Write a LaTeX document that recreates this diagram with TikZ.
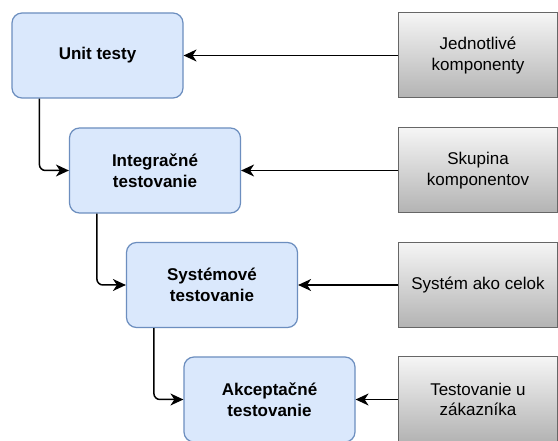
\documentclass[tikz,border=0pt]{standalone}
\usepackage{fontspec}
\setmainfont{Liberation Sans}
\usetikzlibrary{arrows.meta}
\definecolor{bfill}{HTML}{DAE8FC}
\definecolor{bdraw}{HTML}{6C8EBF}
\definecolor{gtop}{HTML}{F5F5F5}
\definecolor{gbot}{HTML}{B3B3B3}
\definecolor{gdraw}{HTML}{666666}
\tikzset{
  levelbox/.style={draw=bdraw, fill=bfill, rounded corners=10pt, line width=1.2pt,
    minimum width=171pt, minimum height=85pt, align=center, inner sep=0pt,
    font=\fontsize{17}{20.5}\selectfont\bfseries},
  srcbox/.style={draw=gdraw, top color=gtop, bottom color=gbot, line width=1pt,
    minimum width=159pt, minimum height=85pt, align=center, inner sep=0pt,
    font=\fontsize{17}{20.5}\selectfont},
  conn/.style={line width=1.5pt, -{Stealth[length=13pt,width=12pt,inset=4pt]}, rounded corners=6pt},
}
\begin{document}
\begin{tikzpicture}[x=1pt,y=-1pt]
\useasboundingbox (0,0) rectangle (558,441);
\clip (0,0) rectangle (558,441);
\fill[white] (0,0) rectangle (558,441);
\node[levelbox] (u) at (97.5,55.5) {Unit testy};
\node[levelbox] (i) at (155,170.5) {Integračné\\testovanie};
\node[levelbox] (s) at (212,285) {Systémové\\testovanie};
\node[levelbox] (a) at (269.5,399.5) {Akceptačné\\testovanie};
\node[srcbox] (r1) at (478,55.5) {Jednotlivé\\komponenty};
\node[srcbox] (r2) at (478,170.5) {Skupina\\komponentov};
\node[srcbox] (r3) at (478,285) {Systém ako celok};
\node[srcbox] (r4) at (478,399.5) {Testovanie u\\zákazníka};
\draw[conn] (r1.west) -- (u.east);
\draw[conn] (r2.west) -- (i.east);
\draw[conn] (r3.west) -- (s.east);
\draw[conn] (r4.west) -- (a.east);
\draw[conn] ([xshift=28pt]u.south west) |- (i.west);
\draw[conn] ([xshift=28pt]i.south west) |- (s.west);
\draw[conn] ([xshift=28pt]s.south west) |- (a.west);
\end{tikzpicture}
\end{document}
